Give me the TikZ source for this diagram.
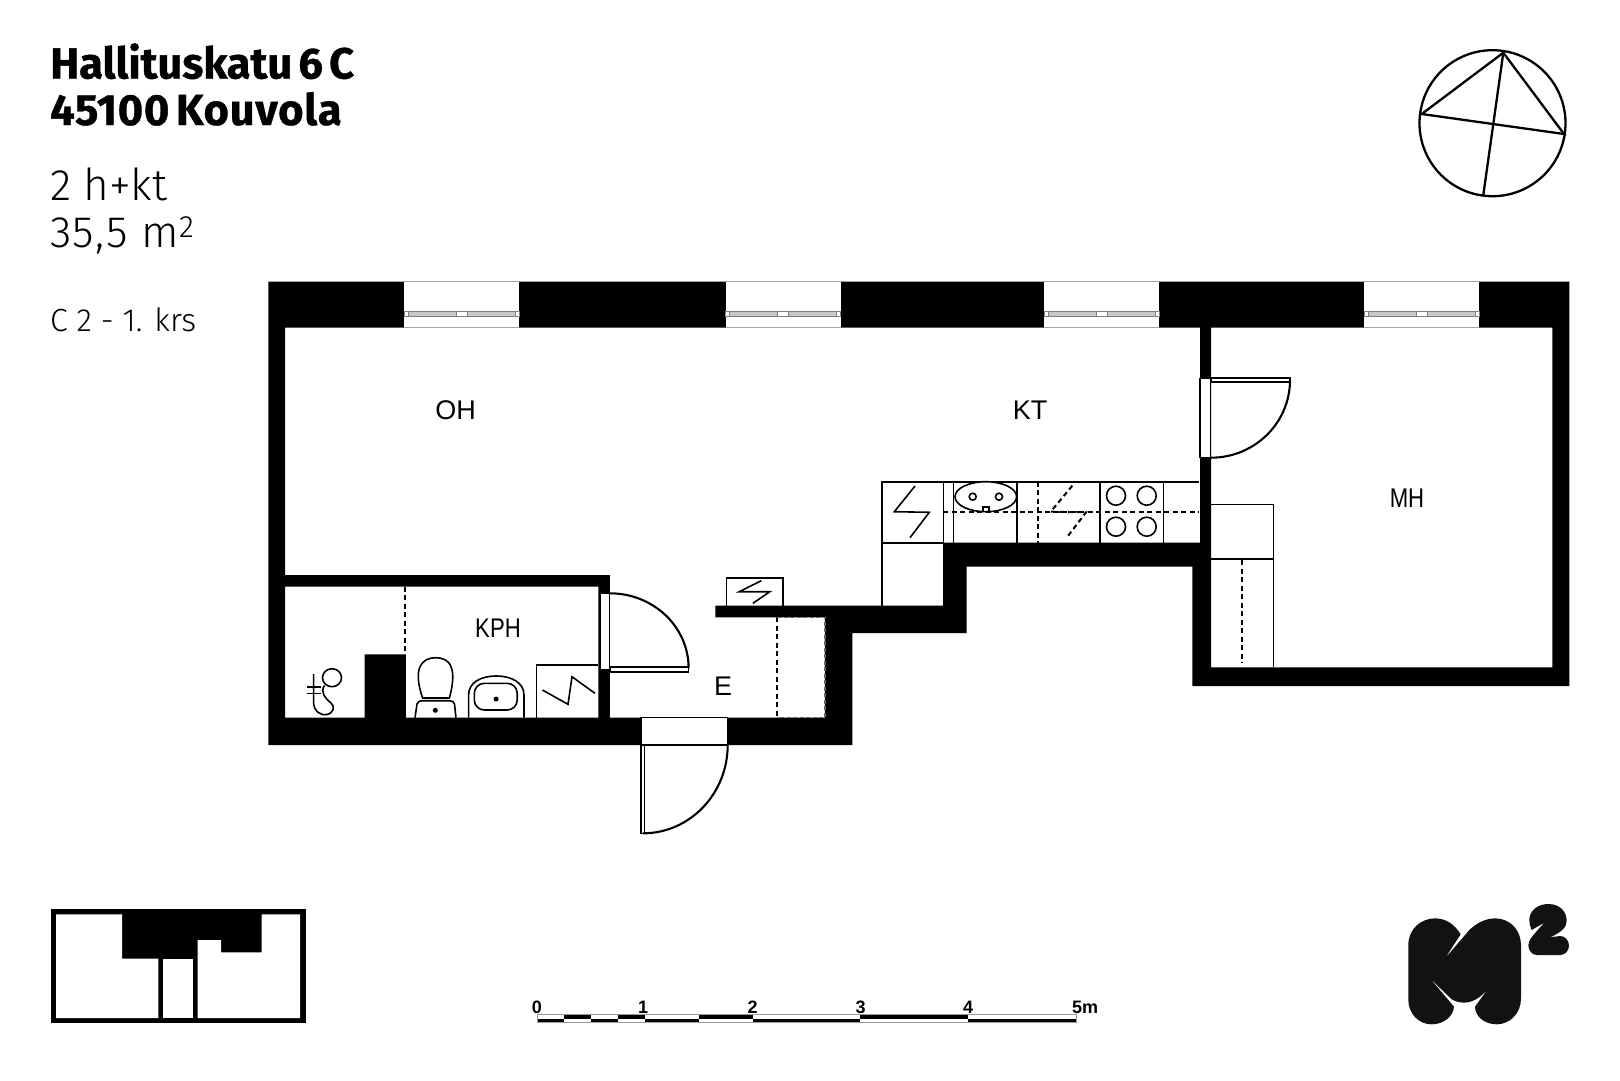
\documentclass[tikz,border=0pt]{standalone}
\usepackage{fontspec}
\setmainfont{Fira Sans}
\newfontfamily\titlefont[WordSpace=.6, BoldFeatures={FakeBold=.8}]{Fira Sans}
\newfontfamily\cityfont[WordSpace=.6, LetterSpace=1.8, BoldFeatures={FakeBold=.8}]{Fira Sans}
\newfontfamily\infofont[UprightFont={* Light}]{Fira Sans}
\newfontfamily\areafont[UprightFont={* Light}, LetterSpace=3]{Fira Sans}
\newfontfamily\roomfont{Liberation Sans}
\tikzset{
	fixture/.style={line width=1.6pt},
	swing/.style={line width=2.1pt},
	dashline/.style={line width=2pt, dash pattern=on 5pt off 3.5pt},
	doorframe/.style={fill=white, draw=black, line width=1.5pt},
	glazing/.style={draw=black!35, line width=1pt},
	pane/.style={fill=black!22, draw=black!50, line width=.7pt},
	title/.style={anchor=base west, inner sep=0pt, font=\titlefont\fontsize{43.5}{43.5}\selectfont\bfseries},
	info/.style={anchor=base west, inner sep=0pt, font=\infofont\fontsize{44}{44}\selectfont},
	room/.style={inner sep=0pt, font=\roomfont\fontsize{27}{27}\selectfont},
	narrowroom/.style={room, transform shape, xscale=.82},
	tick/.style={anchor=base, inner sep=0pt, font=\roomfont\fontsize{18}{18}\selectfont\bfseries}
}

\begin{document}
\begin{tikzpicture}[x=1pt, y=-1pt, line join=miter]
	\useasboundingbox (0,0) rectangle (1620,1080);
	\node[title] (street) at (50,78.5) {Hallituskatu 6 C};
	\node[title, font=\cityfont\fontsize{43.5}{43.5}\selectfont\bfseries] (city) at (50,125) {45100 Kouvola};
	\node[info] (type) at (50,200) {2 h+kt};
	\node[info, font=\areafont\fontsize{44}{44}\selectfont] (area) at (50,247) {35,5 m\textsuperscript{2}};
	\node[info, font=\infofont\fontsize{32}{32}\selectfont] (flat) at (50,331.5) {C 2 - 1. krs};

	\draw[line width=2.3pt] (1492.5,123.2) circle[radius=73pt];
	\draw[line width=2.3pt] (1503.3,52.7) -- (1421.7,114) -- (1564,134) -- cycle;
	\draw[line width=2.3pt] (1503.3,52.7) -- (1483.3,195);

	\fill[even odd rule] (268.4,281.7) -- (1569.3,281.7) -- (1569.3,686) -- (1192.3,686) -- (1192.3,566.7) -- (966.7,566.7) -- (966.7,633) -- (852.4,633) -- (852.4,745) -- (268.4,745) -- cycle
		(285.2,327.5) -- (1200,327.5) -- (1200,542.7) -- (943.3,542.7) -- (943.3,605.7) -- (715.4,605.7) -- (715.4,617.3) -- (824.9,617.3) -- (824.9,717.7) -- (609.8,717.7) -- (609.8,575) -- (285.2,575) -- cycle
		(285.2,586.7) -- (598.3,586.7) -- (598.3,717.7) -- (405.8,717.7) -- (405.8,654.3) -- (364.5,654.3) -- (364.5,717.7) -- (285.2,717.7) -- cycle
		(1211,327.5) -- (1552.3,327.5) -- (1552.3,667.3) -- (1211,667.3) -- cycle;

	\foreach \wx in {404.3,725.5,1044,1364.3}{
		\fill[white] (\wx,281.7) rectangle (\wx+115,327.5);
		\draw[glazing] (\wx,281.7) -- (\wx+115,281.7);
		\draw[glazing] (\wx,327.5) -- (\wx+115,327.5);
		\draw[draw=black!50, line width=.7pt] (\wx,311) rectangle (\wx+115,316);
		\draw[pane] (\wx+4,311) rectangle (\wx+52,316);
		\draw[pane] (\wx+63,311) rectangle (\wx+111,316);
	}

	\draw[doorframe] (599.8,593.3) rectangle (609.3,670);
	\draw[fixture] (609.8,666.7) rectangle (688.6,671.7);
	\draw[swing] (688.6,668) arc[start angle=0, end angle=90, x radius=78.8pt, y radius=74.7pt];

	\draw[doorframe] (640.8,717.7) rectangle (727.7,745);
	\draw[fixture] (640.8,745) rectangle (644.6,833.3);
	\draw[swing] (727.7,745) arc[start angle=0, end angle=-90, x radius=84.7pt, y radius=88.3pt];

	\draw[doorframe] (1200,378.3) rectangle (1210.7,457.7);
	\draw[fixture] (1211,377.7) rectangle (1290,381.7);
	\draw[swing] (1290,380) arc[start angle=0, end angle=-90, x radius=79pt, y radius=77.7pt];

	\draw[dashline] (405.4,586.7) -- (405.4,654);
	\draw[dashline] (777.4,617.3) -- (777.4,717.7);
	\draw[black!60, line width=1.5pt, dash pattern=on 4pt off 2.5pt] (777.4,617.3) -- (824.9,617.3) -- (824.9,717.7) -- (777.4,717.7);

	\draw[fixture] (536.3,717.7) -- (536.3,665) -- (598.3,665);
	\draw[fixture] (542.4,690) -- (568,704.3) -- (572,676.7) -- (594.9,693.3);

	\draw[fixture] (468.6,717.7) -- (468.6,695) .. controls (468.6,683) and (480,676) .. (496.3,676) .. controls (512,676) and (524,683) .. (524,695) -- (524,717.7);
	\draw[fixture, rounded corners=10pt] (474.3,683.3) rectangle (517.2,710);
	\fill (496.1,699) circle[radius=2.5pt];

	\draw[fixture] (422.6,698) .. controls (418,685) and (417,673) .. (420,667) .. controls (423,660) and (429,657.7) .. (435.6,657.7) .. controls (442,657.7) and (449,660) .. (451,667) .. controls (454,673) and (453,685) .. (449.4,698) -- cycle;
	\draw[fixture] (415,717.7) -- (417,704) .. controls (418,701.5) and (420,700.7) .. (422,700.7) -- (449,700.7) .. controls (452,700.7) and (454,701.5) .. (454.5,704) -- (456,717.7);
	\fill (435.3,710.3) circle[radius=2.5pt];

	\draw[fixture] (332,677.7) ellipse[x radius=9.5pt, y radius=9pt];
	\draw[fixture] (313.6,674) -- (313.6,703) .. controls (314,712) and (322,716) .. (327,714.5) .. controls (334,713) and (335,706) .. (331,703) .. controls (325,698) and (320,692) .. (324.5,685.5);
	\draw[fixture] (306.7,686.7) -- (321,686.7);
	\draw[fixture] (306.7,693.3) -- (321,693.3);

	\draw[fixture] (726.5,605.7) -- (726.5,577.7) -- (782.8,577.7) -- (782.8,605.7);
	\draw[fixture] (761.3,580.7) -- (739.2,591.7) -- (769.8,591.7) -- (752.9,603.3);

	\draw[fixture] (882,605.7) -- (882,481.7) -- (1199.3,481.7);
	\draw[fixture] (882,543) -- (943.3,543);
	\foreach \kx in {943.3,953.3,1016.7,1100,1163.3}{
		\draw[fixture] (\kx,481.7) -- (\kx,542.7);
	}
	\draw[fixture] (943.3,542.7) -- (943.3,605.7);
	\draw[fixture, fill=white] (985.8,496.7) ellipse[x radius=30.8pt, y radius=15pt];
	\draw[fixture] (972.7,496.7) circle[radius=3.5pt];
	\draw[fixture] (999,496.7) circle[radius=3.5pt];
	\draw[fixture] (983,512) -- (983,506.7) -- (989,506.7) -- (989,512);
	\draw[dashline] (943.3,512.3) -- (1199.3,512.3);
	\draw[dashline] (1038.3,481.7) -- (1038.3,542.7);
	\draw[fixture] (915,486) -- (894.3,511.7) -- (929.3,512.3) -- (910,537.7);
	\draw[dashline] (1072.3,485.7) -- (1050.7,511.7) -- (1086,512.3) -- (1066.7,537.7);
	\foreach \hx in {1116,1146.7}{
		\foreach \hy in {495.7,526.7}{
			\draw[fixture] (\hx,\hy) circle[radius=9.5pt];
		}
	}

	\draw[fixture] (1211,504.3) -- (1273.3,504.3) -- (1273.3,667.3);
	\draw[fixture] (1211,559) -- (1273.3,559);
	\draw[dashline] (1241.7,560) -- (1241.7,663);

	\node[room] (OH) at (455.6,410) {OH};
	\node[room] (KT) at (1030,410) {KT};
	\node[narrowroom] (MH) at (1407,498) {MH};
	\node[narrowroom] (KPH) at (498,628) {KPH};
	\node[room] (E) at (723,686) {E};

	\fill (50.7,909.3) rectangle (305.7,1023.3);
	\fill[white] (56,914.3) -- (122,914.3) -- (122,958.7) -- (158.3,958.7) -- (158.3,1018) -- (56,1018) -- cycle;
	\fill[white] (162.7,958.7) rectangle (193,1018);
	\fill[white] (197.7,1018) -- (197.7,940) -- (221,940) -- (221,952.3) -- (261.7,952.3) -- (261.7,914.3) -- (300,914.3) -- (300,1018) -- cycle;

	\foreach \sa/\sb in {.25/.5,.75/1,1.5/2,3/4}{
		\fill (537+107.8*\sa,1014.3) rectangle (537+107.8*\sb,1018.5);
	}
	\foreach \sa/\sb in {0/.25,.5/.75,1/1.5,2/3,4/5}{
		\fill (537+107.8*\sa,1018.5) rectangle (537+107.8*\sb,1022.7);
	}
	\draw[black!40, line width=.8pt] (537,1014.3) rectangle (1076,1022.7);
	\node[tick] (m0) at (536.8,1013) {0};
	\node[tick] (m1) at (643,1013) {1};
	\node[tick] (m2) at (752.6,1013) {2};
	\node[tick] (m3) at (860.7,1013) {3};
	\node[tick] (m4) at (968,1013) {4};
	\node[tick, anchor=base west] (m5) at (1072,1013) {5m};

	\begin{scope}[shift={(1390,890)}, x=.3333pt, y=-.3333pt]
		\fill[black!93] (55,165) .. controls (55,115) and (95,85) .. (135,85) .. controls (170,85) and (195,105) .. (212,133) -- (165,205) -- (226,134) .. controls (245,108) and (280,85) .. (315,85) .. controls (360,85) and (393,120) .. (393,165) -- (393,325) .. controls (393,370) and (360,403) .. (320,403) .. controls (285,403) and (255,380) .. (255,350) -- (295,295) .. controls (275,320) and (250,338) .. (222,338) .. controls (205,338) and (195,333) .. (185,328) -- (120,265) -- (192,350) .. controls (190,380) and (160,403) .. (125,403) .. controls (85,403) and (55,370) .. (55,330) -- cycle;
		\fill[black!93] (418,90) .. controls (418,60) and (445,42) .. (475,42) .. controls (510,42) and (530,65) .. (530,92) .. controls (530,110) and (518,125) .. (480,142) -- (510,138) .. controls (525,138) and (537,150) .. (537,167) .. controls (537,183) and (525,195) .. (510,195) -- (440,195) .. controls (425,195) and (415,180) .. (415,165) .. controls (415,150) and (430,135) .. (463,98) -- (425,120) .. controls (420,110) and (418,100) .. (418,90) -- cycle;
	\end{scope}
\end{tikzpicture}
\end{document}
